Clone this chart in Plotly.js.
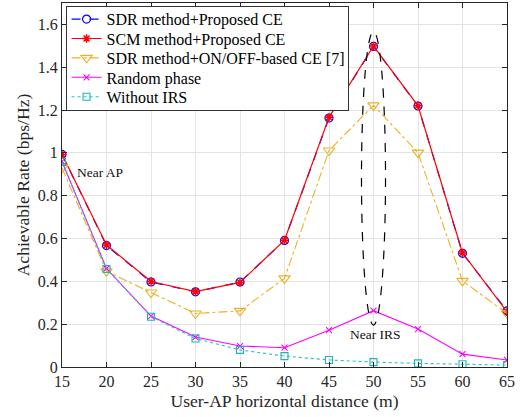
<!DOCTYPE html>
<html><head><meta charset="utf-8">
<script src="https://cdn.plot.ly/plotly-3.0.1.min.js"></script>
<style>html,body{margin:0;padding:0;background:#fff}#c{width:521px;height:417px}</style>
</head><body><div id="c"></div>
<script>
const distance = [15, 20, 25, 30, 35, 40, 45, 50, 55, 60, 65];
const sdrProposed = [0.993, 0.567, 0.397, 0.351, 0.397, 0.591, 1.163, 1.497, 1.219, 0.531, 0.262];
const scmProposed = [0.993, 0.570, 0.399, 0.352, 0.395, 0.592, 1.166, 1.499, 1.220, 0.533, 0.258];
const sdrOnOff = [0.930, 0.447, 0.348, 0.250, 0.262, 0.414, 1.011, 1.222, 1.001, 0.402, 0.250];
const randomPhase = [0.960, 0.460, 0.238, 0.140, 0.098, 0.090, 0.172, 0.263, 0.177, 0.060, 0.033];
const withoutIRS = [0.958, 0.458, 0.235, 0.133, 0.080, 0.051, 0.033, 0.023, 0.017, 0.013, 0.009];
const seriesNames = ["SDR method+Proposed CE", "SCM method+Proposed CE", "SDR method+ON/OFF-based CE [7]", "Random phase", "Without IRS"];
const xTicks = [15, 20, 25, 30, 35, 40, 45, 50, 55, 60, 65];
const yTicks = [0, 0.2, 0.4, 0.6, 0.8, 1, 1.2, 1.4, 1.6];
const yTickLabels = ["0", "0.2", "0.4", "0.6", "0.8", "1", "1.2", "1.4", "1.6"];

const traces = [
  {x: distance, y: sdrProposed, name: seriesNames[0], mode: "lines+markers",
   line: {color: "#0000ff", width: 1.2, dash: "dash"},
   marker: {symbol: "circle-open", size: 8, color: "#0000ff", line: {width: 1.2, color: "#0000ff"}}},
  {x: distance, y: scmProposed, name: seriesNames[1], mode: "lines+markers",
   line: {color: "#ff0000", width: 1.2},
   marker: {symbol: "asterisk-open", size: 7, color: "#ff0000", line: {width: 1.5, color: "#ff0000"}}},
  {x: distance, y: sdrOnOff, name: seriesNames[2], mode: "lines+markers",
   line: {color: "#EDB120", width: 1.1, dash: "dashdot"},
   marker: {symbol: "triangle-down-open", size: 10, color: "#EDB120", line: {width: 1.1, color: "#EDB120"}}},
  {x: distance, y: randomPhase, name: seriesNames[3], mode: "lines+markers",
   line: {color: "#ff00ff", width: 1.1},
   marker: {symbol: "x-thin-open", size: 6, color: "#ff00ff", line: {width: 1.1, color: "#ff00ff"}}},
  {x: distance, y: withoutIRS, name: seriesNames[4], mode: "lines+markers",
   line: {color: "#22c4c4", width: 1.1, dash: "dot"},
   marker: {symbol: "square-open", size: 7, color: "#22b4b4", line: {width: 1.1, color: "#22b4b4"}}}
];

const FAM = '"Liberation Serif", "Times New Roman", Times, serif';
const font = {family: FAM, color: "#262626"};
const layout = {
  width: 521, height: 417,
  margin: {l: 62, r: 14, t: 3, b: 50},
  paper_bgcolor: "#fff", plot_bgcolor: "#fff",
  font: Object.assign({size: 14}, font),
  showlegend: true,
  legend: {x: 0.008, y: 0.992, xanchor: "left", yanchor: "top",
    bgcolor: "#fff", bordercolor: "#333", borderwidth: 1,
    font: Object.assign({size: 16}, font, {color: "#000"}), tracegroupgap: 0},
  xaxis: {range: [15, 65], tickvals: xTicks, ticktext: xTicks.map(String),
    showgrid: true, gridcolor: "#e3e3e3", gridwidth: 1, zeroline: false,
    showline: true, linecolor: "#262626", linewidth: 1, mirror: "ticks",
    ticks: "inside", ticklen: 5, tickcolor: "#262626",
    tickfont: Object.assign({size: 16}, font),
    title: {text: "User-AP horizontal distance (m)", font: Object.assign({size: 17.6}, font), standoff: 5}},
  yaxis: {range: [0, 1.7], tickvals: yTicks, ticktext: yTickLabels,
    showgrid: true, gridcolor: "#e3e3e3", gridwidth: 1, zeroline: false,
    showline: true, linecolor: "#262626", linewidth: 1, mirror: "ticks",
    ticks: "inside", ticklen: 5, tickcolor: "#262626",
    tickfont: Object.assign({size: 16}, font),
    title: {text: "Achievable Rate (bps/Hz)", font: Object.assign({size: 17.6}, font), standoff: 3}},
  shapes: [
    {type: "circle", xref: "x", yref: "y", x0: 48.65, x1: 51.35, y0: 0.196, y1: 1.567,
     line: {color: "#000", width: 1.2, dash: "dash"}}
  ],
  annotations: [
    {x: 16.45, y: 0.91, xref: "x", yref: "y", text: "Near AP", showarrow: false, xanchor: "left",
     font: Object.assign({size: 13.5}, font, {color: "#111"})},
    {x: 50.2, y: 0.15, xref: "x", yref: "y", text: "Near IRS", showarrow: false, xanchor: "center",
     font: Object.assign({size: 13.5}, font, {color: "#111"})}
  ]
};
const gd = document.getElementById("c");
Plotly.newPlot(gd, traces, layout, {displayModeBar: false, staticPlot: true}).then(function () {
  // tighten the legend row spacing to match the reference figure
  const step = 19.4, top = 3.5;
  const items = gd.querySelectorAll(".legend .traces");
  let maxRight = 0;
  items.forEach(function (el, i) {
    const m = /translate\(\s*([-\d.]+)[ ,]+([-\d.]+)\s*\)/.exec(el.getAttribute("transform") || "");
    const tx = m ? parseFloat(m[1]) : 1;
    el.setAttribute("transform", "translate(" + tx + "," + (top + step * i + step / 2) + ")");
    const t = el.querySelector(".legendtext");
    if (t) {
      const bb = t.getBBox();
      maxRight = Math.max(maxRight, tx + bb.x + bb.width);
    }
  });
  const bg = gd.querySelector(".legend .bg");
  if (bg) {
    bg.setAttribute("height", top * 2 + step * items.length);
    if (maxRight > 0) bg.setAttribute("width", maxRight + 4);
  }
});
</script></body></html>
